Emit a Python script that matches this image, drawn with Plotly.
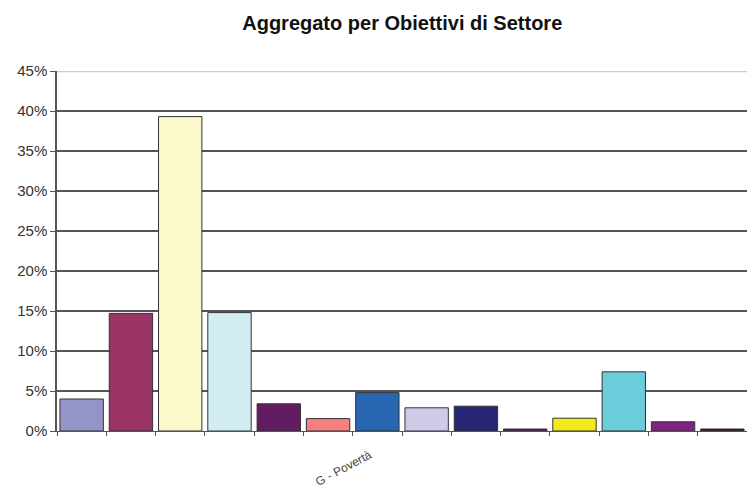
import plotly.graph_objects as go

# Sector objectives (A..N); only "G" carries a printed label on the axis
categories = ["A", "B", "C", "D", "E", "F", "G", "H", "I", "J", "K", "L", "M", "N"]
shown_label_category = "G"
shown_label_text = "G - Povertà"

# Share of the aggregate, in percent
values = [4.0, 14.7, 39.3, 14.8, 3.4, 1.55, 4.8, 2.9, 3.1, 0.25, 1.6, 7.4, 1.15, 0.25]

bar_colors = [
    "#9494C9", "#993366", "#FBF8CC", "#D3EDF4", "#621D62", "#F68080", "#2866B2",
    "#CDCBE8", "#262674", "#5A1A5A", "#F2EA1A", "#6BCCDA", "#7F2280", "#3A1212",
]

y_ticks = [0, 5, 10, 15, 20, 25, 30, 35, 40, 45]
y_tick_text = [f"{t}%" for t in y_ticks]

fig = go.Figure(
    go.Bar(
        x=categories,
        y=values,
        marker=dict(color=bar_colors, line=dict(color="#333333", width=1)),
        hovertemplate="%{x}: %{y}%<extra></extra>",
    )
)

fig.update_layout(
    width=747,
    height=488,
    margin=dict(l=57, r=0, t=71, b=57),
    paper_bgcolor="white",
    plot_bgcolor="white",
    bargap=0.12,
    showlegend=False,
    font=dict(family="Liberation Sans, Arial, sans-serif", color="#333333"),
    title=dict(
        text="<b>Aggregato per Obiettivi di Settore</b>",
        x=0.5385,
        xanchor="center",
        y=1 - 23 / 488,
        yanchor="middle",
        font=dict(size=20, color="#111111"),
    ),
)

fig.update_xaxes(
    type="category",
    categoryorder="array",
    categoryarray=categories,
    showticklabels=False,
    tickson="boundaries",
    ticks="outside",
    ticklen=4,
    tickcolor="#555555",
    showline=True,
    linecolor="#555555",
    linewidth=1,
    showgrid=False,
    range=[-0.5, len(categories) - 0.5],
)

fig.update_yaxes(
    range=[0, 45],
    tickvals=y_ticks,
    ticktext=y_tick_text,
    ticks="outside",
    ticklen=5,
    tickcolor="#555555",
    tickfont=dict(size=15, color="#333333"),
    showline=True,
    linecolor="#555555",
    linewidth=1.5,
    showgrid=True,
    gridcolor="#555555",
    gridwidth=1.5,
    zeroline=False,
)

# Lighter border along the top of the plot area
fig.add_shape(
    type="line", xref="paper", yref="y", x0=0, x1=1, y0=45, y1=45,
    line=dict(color="#CCCCCC", width=2.5),
)

# The single category label that is printed on the axis
fig.add_annotation(
    x=categories.index(shown_label_category),
    xref="x",
    y=0,
    yref="paper",
    text=shown_label_text,
    textangle=-28,
    xanchor="right",
    yanchor="top",
    xshift=0,
    yshift=-14,
    showarrow=False,
    font=dict(size=12, color="#444444"),
)

fig.write_html("out.html")
